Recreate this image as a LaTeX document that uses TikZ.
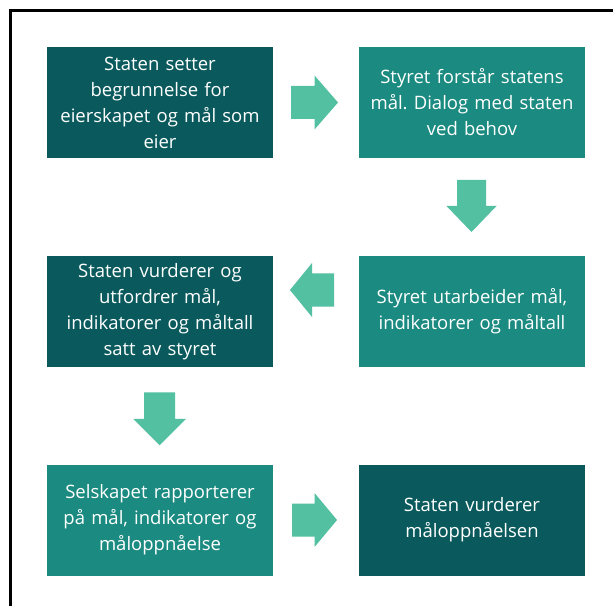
\documentclass[tikz,border=0pt]{standalone}
\usepackage{fontspec}
\setmainfont{Open Sans}
\frenchspacing
\usetikzlibrary{calc}
\definecolor{darkteal}{RGB}{10,90,93}
\definecolor{midteal}{RGB}{27,138,128}
\definecolor{arrowgreen}{RGB}{82,192,161}
\tikzset{
  stepbox/.style={minimum width=226pt, minimum height=111pt, inner sep=0pt,
    text width=226pt, align=center, text=white,
    font=\fontsize{18.5}{26}\selectfont},
  darkbox/.style={stepbox, fill=darkteal},
  lightbox/.style={stepbox, fill=midteal},
  arrowfill/.style={fill=arrowgreen}
}
% block arrow: #1 centre, #2 angle, #3 half length, #4 half shaft, #5 half head, #6 head base offset
\newcommand\blockarr[6]{%
  \fill[arrowfill, shift={#1}, rotate=#2]
    (-#3,-#4) -- (#6,-#4) -- (#6,-#5) -- (#3,0) -- (#6,#5) -- (#6,#4) -- (-#3,#4) -- cycle;}
\begin{document}
\begin{tikzpicture}[x=1pt,y=1pt]
\useasboundingbox (0,0) rectangle (613,606);
\fill[white] (0,0) rectangle (613,606);
% frame
\draw[line width=3pt] (10.5,0) -- (10.5,595.5) -- (613,595.5);

\node[darkbox]  (b1) at (160,503.5) {Staten setter\\ begrunnelse for\\ eierskapet og mål som\\ eier};
\node[lightbox] (b2) at (472,503.5) {Styret forstår statens\\ mål. Dialog med staten\\ ved behov};
\node[lightbox] (b3) at (472,294.5) {Styret utarbeider mål,\\ indikatorer og måltall};
\node[darkbox]  (b4) at (160,294.5) {Staten vurderer og\\ utfordrer mål,\\ indikatorer og måltall\\ satt av styret};
\node[lightbox] (b5) at (160,86) {Selskapet rapporterer\\ på mål, indikatorer og\\ måloppnåelse};
\node[darkbox]  (b6) at (472,86) {Staten vurderer\\ måloppnåelsen};

\blockarr{($(b1.east)!0.5!(b2.west)+(-1.5,0)$)}{0}{23.5}{16.5}{27}{0}
\blockarr{($(b2.south)!0.5!(b3.north)+(-0.5,1)$)}{-90}{26}{14.5}{25}{0}
\blockarr{($(b3.west)!0.5!(b4.east)+(-4,21.5)$)}{180}{22}{16.5}{27}{0}
\blockarr{($(b4.south)!0.5!(b5.north)+(-0.5,-3)$)}{-90}{26.5}{15.5}{26.5}{0}
\blockarr{($(b5.east)!0.5!(b6.west)+(-1.5,0)$)}{0}{22.5}{16.5}{27}{0}
\end{tikzpicture}
\end{document}
